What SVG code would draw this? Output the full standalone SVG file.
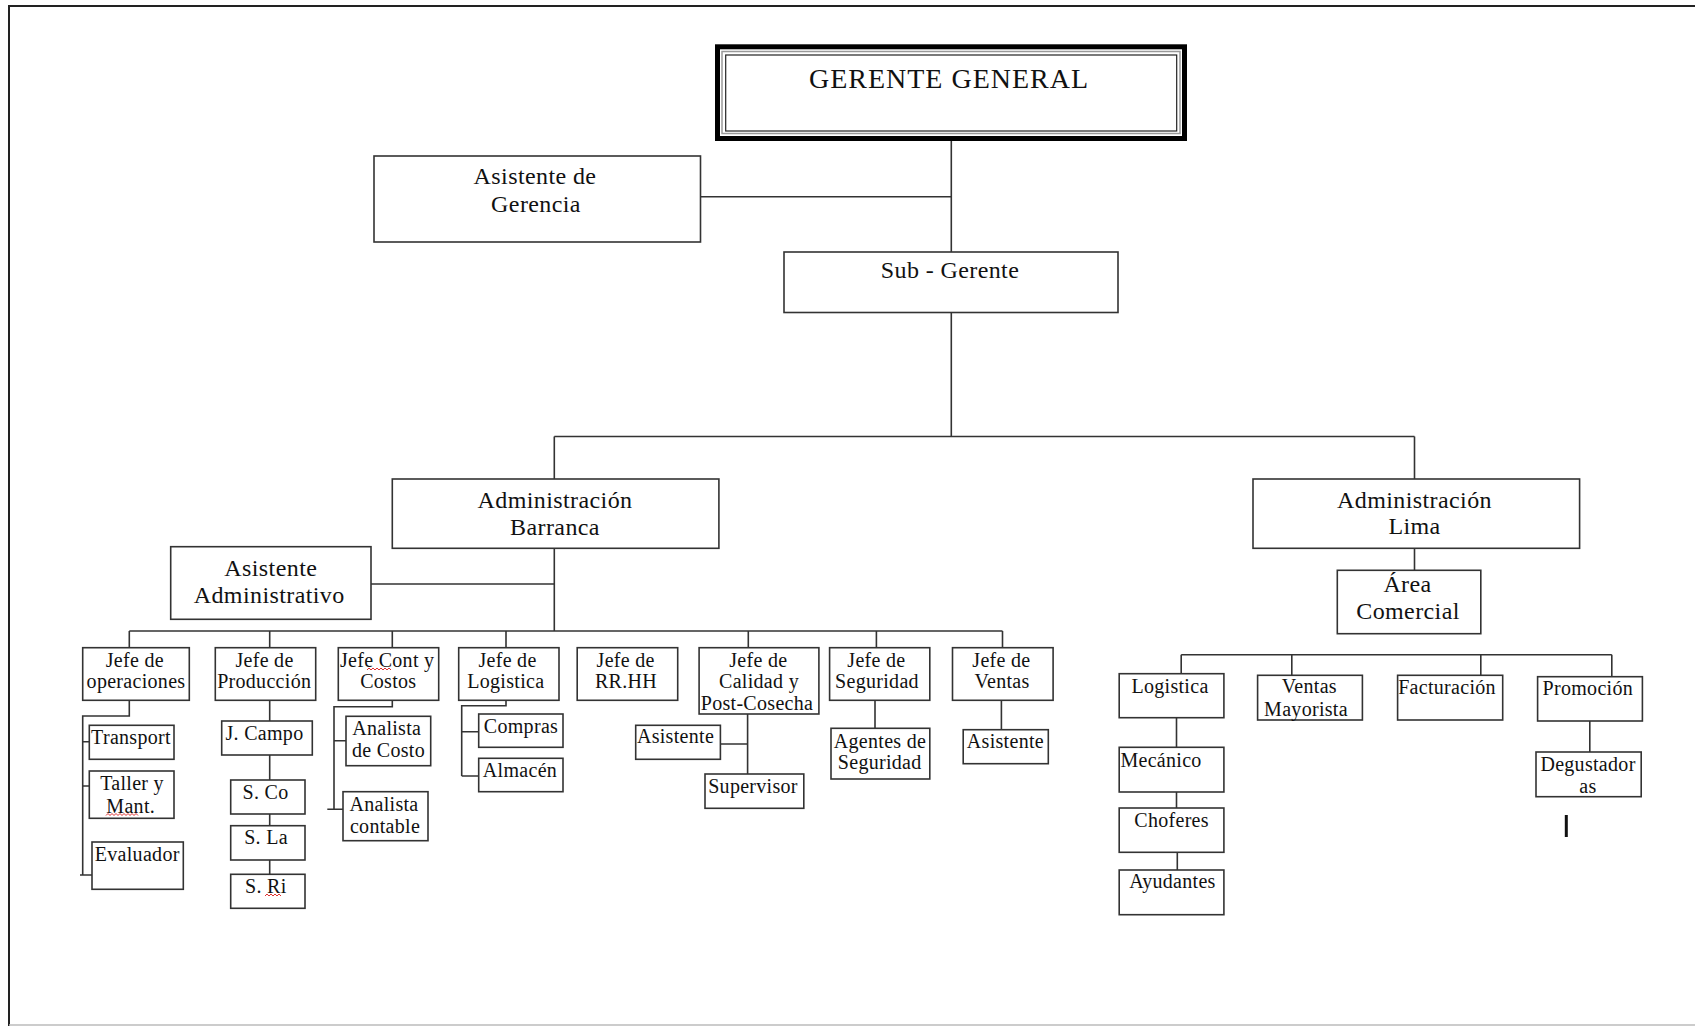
<svg xmlns="http://www.w3.org/2000/svg" width="1695" height="1026" viewBox="0 0 1695 1026">
<style>
.box{fill:#fff;stroke:#333;stroke-width:1.6}
.ln{fill:none;stroke:#333;stroke-width:1.6}
text{font-family:"Liberation Serif","Times New Roman",serif;fill:#111;text-anchor:middle}
.t28{font-size:28px;letter-spacing:1px}
.t24{font-size:24px;letter-spacing:0.4px}
.t20{font-size:20px;letter-spacing:0.3px}
.sq{fill:none;stroke:#e03030;stroke-width:1}
</style>
<rect width="1695" height="1026" fill="#fff"/>
<g id="frame">
<line x1="9" y1="6" x2="1695" y2="6" stroke="#222" stroke-width="2"/>
<line x1="9" y1="5" x2="9" y2="1026" stroke="#222" stroke-width="2"/>
<line x1="9" y1="1025" x2="1695" y2="1025" stroke="#bbb" stroke-width="1.5"/>
</g>
<g id="connectors">
<path class="ln" d="M951.3 141V252M700.5 196.7H951.3M951.3 312.4V436.5M554.3 436.5H1414.5M554.3 436.5V479M1414.5 436.5V479"/>
<path class="ln" d="M554.3 548.3V631M371 584H554.3M129.3 631H1002.5M129.3 631V647.7M269.7 631V647.7M392.3 631V647.7M506 631V647.7M748.3 631V647.7M876.4 631V647.7M1002.5 631V647.7"/>
<path class="ln" d="M129.3 700.3V716H82.7V875M82.7 741.7H89.3M82.7 786H89.3M80 875H92"/>
<path class="ln" d="M269.7 700.3V721M269.7 755V780M269.7 814V825.7M269.7 860V874.3"/>
<path class="ln" d="M392.3 700.3V706.7H334V809.3M334 740.7H346M327.3 809.3H343"/>
<path class="ln" d="M506 700.3V705.7H461.7V776M461.7 731.7H478.7M461.7 776H478.7"/>
<path class="ln" d="M747.6 714V774M720.4 744H747.6M875 700.3V728.3M1001.4 700.3V729.7"/>
<path class="ln" d="M1414.5 548.3V570.3M1181.2 654.7H1611.8M1181.2 654.7V673.7M1291.8 654.7V675.3M1480.8 654.7V675.3M1611.8 654.7V676.7"/>
<path class="ln" d="M1176.5 717.7V747.3M1176.5 792V808M1177.3 852.3V870M1589.8 721V752"/>
<path d="M1566.3 815V837" stroke="#111" stroke-width="3"/>
</g>
<g id="gerente-general">
<rect x="717.5" y="46.8" width="467" height="91.7" fill="#fff" stroke="#000" stroke-width="5"/>
<rect x="722" y="51.5" width="458" height="82" fill="none" stroke="#999" stroke-width="1.5"/>
<rect x="725.7" y="55" width="451" height="76" fill="none" stroke="#222" stroke-width="1.2"/>
<text class="t28" x="949" y="87.5">GERENTE GENERAL</text>
</g>
<g id="asistente-gerencia">
<rect class="box" x="374" y="156" width="326.5" height="86"/>
<text class="t24" x="535" y="184">Asistente de</text>
<text class="t24" x="536" y="211.5">Gerencia</text>
</g>
<g id="sub-gerente">
<rect class="box" x="784" y="252" width="334" height="60.5"/>
<text class="t24" x="950" y="278.3">Sub - Gerente</text>
</g>
<g id="admin-barranca">
<rect class="box" x="392.3" y="479" width="326.6" height="69.3"/>
<text class="t24" x="555" y="508.3">Administración</text>
<text class="t24" x="555" y="535">Barranca</text>
</g>
<g id="admin-lima">
<rect class="box" x="1253" y="479" width="326.6" height="69.3"/>
<text class="t24" x="1414.5" y="508.3">Administración</text>
<text class="t24" x="1414.5" y="534.3">Lima</text>
</g>
<g id="asistente-administrativo">
<rect class="box" x="170.7" y="546.7" width="200.3" height="72.6"/>
<text class="t24" x="270.8" y="576">Asistente</text>
<text class="t24" x="269.2" y="603.3">Administrativo</text>
</g>
<g id="area-comercial">
<rect class="box" x="1337.3" y="570.3" width="143.5" height="63.4"/>
<text class="t24" x="1407.5" y="591.7">Área</text>
<text class="t24" x="1408" y="619.3">Comercial</text>
</g>
<g id="jefe-operaciones">
<rect class="box" x="82.7" y="647.7" width="106.6" height="52.6"/>
<text class="t20" x="134.8" y="666.7">Jefe de</text>
<text class="t20" x="136" y="688">operaciones</text>
</g>
<g id="jefe-produccion">
<rect class="box" x="215.3" y="647.7" width="100.4" height="52.6"/>
<text class="t20" x="264.5" y="666.7">Jefe de</text>
<text class="t20" x="264.2" y="688">Producción</text>
</g>
<g id="jefe-cont-costos">
<rect class="box" x="338.3" y="647.7" width="100.4" height="52.6"/>
<text class="t20" x="387.2" y="666.7">Jefe Cont y</text>
<text class="t20" x="388.3" y="688">Costos</text>
<path class="sq" d="M367 670l2-2 2 2 2-2 2 2 2-2 2 2 2-2 2 2 2-2 2 2 2-2 2 2"/>
</g>
<g id="jefe-logistica">
<rect class="box" x="458.7" y="647.7" width="100.3" height="52.6"/>
<text class="t20" x="507.5" y="666.7">Jefe de</text>
<text class="t20" x="505.8" y="688">Logistica</text>
</g>
<g id="jefe-rrhh">
<rect class="box" x="577.2" y="647.7" width="100.5" height="52.6"/>
<text class="t20" x="625.7" y="666.7">Jefe de</text>
<text class="t20" x="626" y="688">RR.HH</text>
</g>
<g id="jefe-calidad">
<rect class="box" x="699.1" y="647.7" width="119.8" height="66.3"/>
<text class="t20" x="758.3" y="666.7">Jefe de</text>
<text class="t20" x="759" y="688">Calidad y</text>
<text class="t20" x="757" y="710">Post-Cosecha</text>
</g>
<g id="jefe-seguridad">
<rect class="box" x="829.6" y="647.7" width="100.2" height="52.6"/>
<text class="t20" x="876.4" y="666.7">Jefe de</text>
<text class="t20" x="877" y="688">Seguridad</text>
</g>
<g id="jefe-ventas">
<rect class="box" x="952.5" y="647.7" width="100.6" height="52.6"/>
<text class="t20" x="1001.4" y="666.7">Jefe de</text>
<text class="t20" x="1002" y="688">Ventas</text>
</g>
<g id="transport">
<rect class="box" x="89.3" y="725.3" width="84.7" height="34"/>
<text class="t20" x="131" y="744">Transport</text>
</g>
<g id="taller-mant">
<rect class="box" x="89.3" y="771" width="84.7" height="47.3"/>
<text class="t20" x="132" y="790">Taller y</text>
<text class="t20" x="130.7" y="812.7">Mant.</text>
<path class="sq" d="M106 815.5l2-2 2 2 2-2 2 2 2-2 2 2 2-2 2 2 2-2 2 2 2-2 2 2 2-2 2 2 2-2 2 2"/>
</g>
<g id="evaluador">
<rect class="box" x="92" y="842" width="91.3" height="47.3"/>
<text class="t20" x="137.2" y="860.7">Evaluador</text>
</g>
<g id="j-campo">
<rect class="box" x="221.7" y="721" width="90.6" height="34"/>
<text class="t20" x="264.5" y="740">J. Campo</text>
</g>
<g id="s-co">
<rect class="box" x="230.7" y="780" width="74.3" height="34"/>
<text class="t20" x="265.5" y="799">S. Co</text>
</g>
<g id="s-la">
<rect class="box" x="230.7" y="825.7" width="74.3" height="34.3"/>
<text class="t20" x="266" y="844.3">S. La</text>
</g>
<g id="s-ri">
<rect class="box" x="230.7" y="874.3" width="74.3" height="34"/>
<text class="t20" x="265.8" y="893.3">S. Ri</text>
<path class="sq" d="M265 896l2-2 2 2 2-2 2 2 2-2 2 2 2-2 2 2"/>
</g>
<g id="analista-costo">
<rect class="box" x="346" y="716.3" width="84.7" height="49.4"/>
<text class="t20" x="386.7" y="735">Analista</text>
<text class="t20" x="388.5" y="757.3">de Costo</text>
</g>
<g id="analista-contable">
<rect class="box" x="343" y="791.7" width="85" height="49"/>
<text class="t20" x="384" y="810.7">Analista</text>
<text class="t20" x="385" y="832.7">contable</text>
</g>
<g id="compras">
<rect class="box" x="478.7" y="714" width="84.3" height="33.3"/>
<text class="t20" x="521" y="733.3">Compras</text>
</g>
<g id="almacen">
<rect class="box" x="478.7" y="758.3" width="84.3" height="33.4"/>
<text class="t20" x="520" y="776.7">Almacén</text>
</g>
<g id="asistente-calidad">
<rect class="box" x="635.7" y="725.3" width="84.7" height="34"/>
<text class="t20" x="675.5" y="742.7">Asistente</text>
</g>
<g id="supervisor">
<rect class="box" x="705" y="774" width="98.8" height="34.3"/>
<text class="t20" x="753" y="792.7">Supervisor</text>
</g>
<g id="agentes-seguridad">
<rect class="box" x="831" y="728.3" width="98.8" height="50.7"/>
<text class="t20" x="880" y="748.3">Agentes de</text>
<text class="t20" x="879.7" y="769.3">Seguridad</text>
</g>
<g id="asistente-ventas">
<rect class="box" x="963.2" y="729.7" width="85.1" height="34"/>
<text class="t20" x="1005.4" y="748.3">Asistente</text>
</g>
<g id="lima-logistica">
<rect class="box" x="1119.2" y="673.7" width="104.7" height="44"/>
<text class="t20" x="1170" y="692.7">Logistica</text>
</g>
<g id="ventas-mayorista">
<rect class="box" x="1257.6" y="675.3" width="104.8" height="44.7"/>
<text class="t20" x="1309.4" y="693.3">Ventas</text>
<text class="t20" x="1306" y="716">Mayorista</text>
</g>
<g id="facturacion">
<rect class="box" x="1397.6" y="675.3" width="105.1" height="44.7"/>
<text class="t20" x="1447" y="694">Facturación</text>
</g>
<g id="promocion">
<rect class="box" x="1537.6" y="676.7" width="104.8" height="44.3"/>
<text class="t20" x="1587.8" y="695">Promoción</text>
</g>
<g id="degustadoras">
<rect class="box" x="1536" y="752" width="105.2" height="44.7"/>
<text class="t20" x="1588" y="771">Degustador</text>
<text class="t20" x="1588" y="792.7">as</text>
</g>
<g id="mecanico">
<rect class="box" x="1119.2" y="747.3" width="104.7" height="44.7"/>
<text class="t20" x="1161" y="766.7">Mecánico</text>
</g>
<g id="choferes">
<rect class="box" x="1119.2" y="808" width="104.7" height="44.3"/>
<text class="t20" x="1171.6" y="826.7">Choferes</text>
</g>
<g id="ayudantes">
<rect class="box" x="1119.2" y="870" width="104.7" height="44.7"/>
<text class="t20" x="1172.5" y="888.3">Ayudantes</text>
</g>
</svg>
